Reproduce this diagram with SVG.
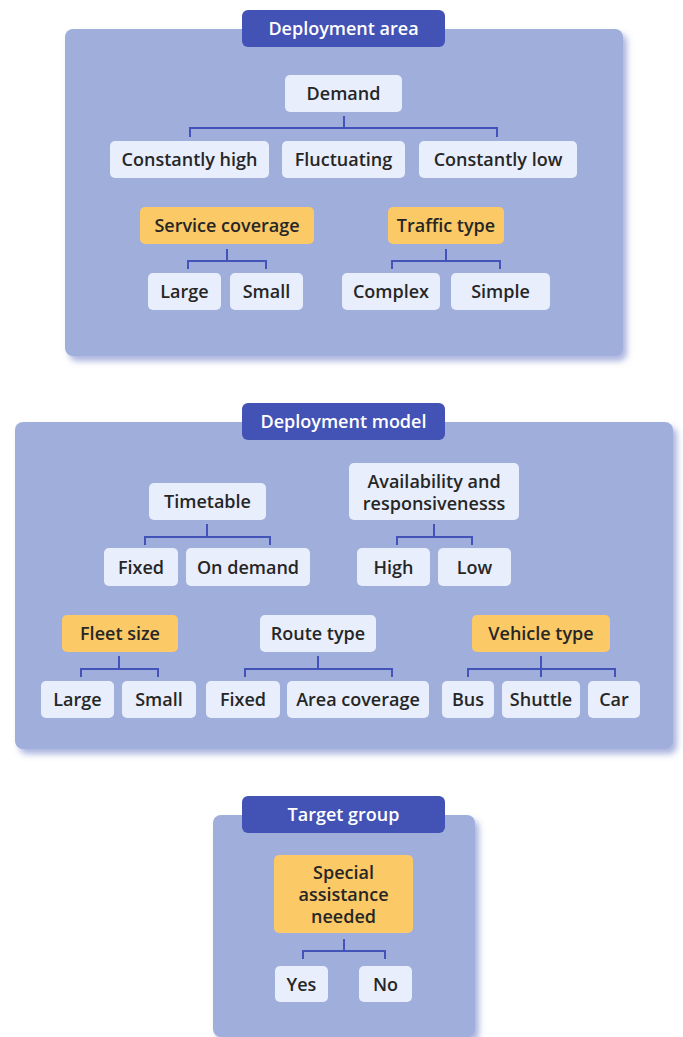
<svg xmlns="http://www.w3.org/2000/svg" width="683" height="1037" viewBox="0 0 683 1037">
<defs>
<filter id="sh" x="-10%" y="-10%" width="125%" height="125%">
<feDropShadow dx="4" dy="5" stdDeviation="3" flood-color="#6675c4" flood-opacity="0.55"/>
</filter>
<style>
.panel{fill:#a0aedc;filter:url(#sh)}
.title{fill:#4353b5}
.tt{fill:#ffffff;font-family:"Open Sans","Liberation Sans",sans-serif;font-weight:600;font-size:18px;text-anchor:middle;dominant-baseline:central}
.n{fill:#e8eefb}
.o{fill:#fbc965}
.t{fill:#262626;font-family:"Open Sans","Liberation Sans",sans-serif;font-weight:600;font-size:18px;text-anchor:middle;dominant-baseline:central}
.c{fill:none;stroke:#4453b8;stroke-width:2}
</style>
</defs>
<rect width="683" height="1037" fill="#ffffff"/>

<g id="panel-area">
<rect class="panel" x="65" y="29" width="558" height="327" rx="8"/>
</g>
<g id="panel-model">
<rect class="panel" x="15" y="422" width="658" height="327" rx="8"/>
</g>
<g id="panel-target">
<rect class="panel" x="213" y="815" width="262" height="222" rx="8"/>
</g>

<g id="title-area"><rect class="title" x="242" y="10" width="203" height="37" rx="6"/><text class="tt" x="343.5" y="28">Deployment area</text></g>
<g id="title-model"><rect class="title" x="242" y="403" width="203" height="37" rx="6"/><text class="tt" x="343.5" y="421">Deployment model</text></g>
<g id="title-target"><rect class="title" x="242" y="796" width="203" height="37" rx="6"/><text class="tt" x="343.5" y="814">Target group</text></g>

<g id="connectors">
<path class="c" d="M344 116 V128 M190 137 V128 H497 V137"/>
<path class="c" d="M227 249 V261 M188 269 V261 H266 V269"/>
<path class="c" d="M446 249 V261 M392 269 V261 H500 V269"/>
<path class="c" d="M207 524 V537 M145 545 V537 H270 V545"/>
<path class="c" d="M434 524 V537 M397 545 V537 H472 V545"/>
<path class="c" d="M119 656 V669 M81 677 V669 H158 V677"/>
<path class="c" d="M318 656 V669 M245 677 V669 H392 V677"/>
<path class="c" d="M541 656 V677 M468 677 V669 H615 V677"/>
<path class="c" d="M344 939 V951 M303 959 V951 H385 V959"/>
</g>

<g id="demand"><rect class="n" x="285" y="75" width="117" height="37" rx="5"/><text class="t" x="343.5" y="93">Demand</text></g>
<g id="constantly-high"><rect class="n" x="110" y="141" width="159" height="37" rx="5"/><text class="t" x="189.5" y="159">Constantly high</text></g>
<g id="fluctuating"><rect class="n" x="282" y="141" width="123" height="37" rx="5"/><text class="t" x="343.5" y="159">Fluctuating</text></g>
<g id="constantly-low"><rect class="n" x="419" y="141" width="158" height="37" rx="5"/><text class="t" x="498" y="159">Constantly low</text></g>

<g id="service-coverage"><rect class="o" x="140" y="207" width="174" height="37" rx="5"/><text class="t" x="227" y="225">Service coverage</text></g>
<g id="traffic-type"><rect class="o" x="388" y="207" width="116" height="37" rx="5"/><text class="t" x="446" y="225">Traffic type</text></g>
<g id="sc-large"><rect class="n" x="148" y="273" width="73" height="37" rx="5"/><text class="t" x="184.5" y="291">Large</text></g>
<g id="sc-small"><rect class="n" x="230" y="273" width="73" height="37" rx="5"/><text class="t" x="266.5" y="291">Small</text></g>
<g id="complex"><rect class="n" x="342" y="273" width="98" height="37" rx="5"/><text class="t" x="391" y="291">Complex</text></g>
<g id="simple"><rect class="n" x="451" y="273" width="99" height="37" rx="5"/><text class="t" x="500.5" y="291">Simple</text></g>

<g id="timetable"><rect class="n" x="149" y="483" width="117" height="37" rx="5"/><text class="t" x="207.5" y="501">Timetable</text></g>
<g id="availability"><rect class="n" x="349" y="463" width="170" height="57" rx="5"/><text class="t" x="434" y="480.5">Availability and</text><text class="t" x="434" y="502.5">responsivenesss</text></g>
<g id="tt-fixed"><rect class="n" x="104" y="548" width="74" height="38" rx="5"/><text class="t" x="141" y="566.5">Fixed</text></g>
<g id="on-demand"><rect class="n" x="186" y="548" width="124" height="38" rx="5"/><text class="t" x="248" y="566.5">On demand</text></g>
<g id="high"><rect class="n" x="357" y="548" width="73" height="38" rx="5"/><text class="t" x="393.5" y="566.5">High</text></g>
<g id="low"><rect class="n" x="438" y="548" width="73" height="38" rx="5"/><text class="t" x="474.5" y="566.5">Low</text></g>

<g id="fleet-size"><rect class="o" x="62" y="615" width="116" height="37" rx="5"/><text class="t" x="120" y="633">Fleet size</text></g>
<g id="route-type"><rect class="n" x="260" y="615" width="116" height="37" rx="5"/><text class="t" x="318" y="633">Route type</text></g>
<g id="vehicle-type"><rect class="o" x="472" y="615" width="138" height="37" rx="5"/><text class="t" x="541" y="633">Vehicle type</text></g>
<g id="fs-large"><rect class="n" x="41" y="681" width="73" height="37" rx="5"/><text class="t" x="77.5" y="699">Large</text></g>
<g id="fs-small"><rect class="n" x="122" y="681" width="74" height="37" rx="5"/><text class="t" x="159" y="699">Small</text></g>
<g id="rt-fixed"><rect class="n" x="206" y="681" width="74" height="37" rx="5"/><text class="t" x="243" y="699">Fixed</text></g>
<g id="area-coverage"><rect class="n" x="287" y="681" width="142" height="37" rx="5"/><text class="t" x="358" y="699">Area coverage</text></g>
<g id="bus"><rect class="n" x="442" y="681" width="52" height="37" rx="5"/><text class="t" x="468" y="699">Bus</text></g>
<g id="shuttle"><rect class="n" x="502" y="681" width="78" height="37" rx="5"/><text class="t" x="541" y="699">Shuttle</text></g>
<g id="car"><rect class="n" x="588" y="681" width="52" height="37" rx="5"/><text class="t" x="614" y="699">Car</text></g>

<g id="special-assistance"><rect class="o" x="274" y="855" width="139" height="78" rx="5"/><text class="t" x="343.5" y="872">Special</text><text class="t" x="343.5" y="894">assistance</text><text class="t" x="343.5" y="916">needed</text></g>
<g id="yes"><rect class="n" x="275" y="966" width="53" height="36" rx="5"/><text class="t" x="301.5" y="983.5">Yes</text></g>
<g id="no"><rect class="n" x="359" y="966" width="53" height="36" rx="5"/><text class="t" x="385.5" y="983.5">No</text></g>
</svg>
